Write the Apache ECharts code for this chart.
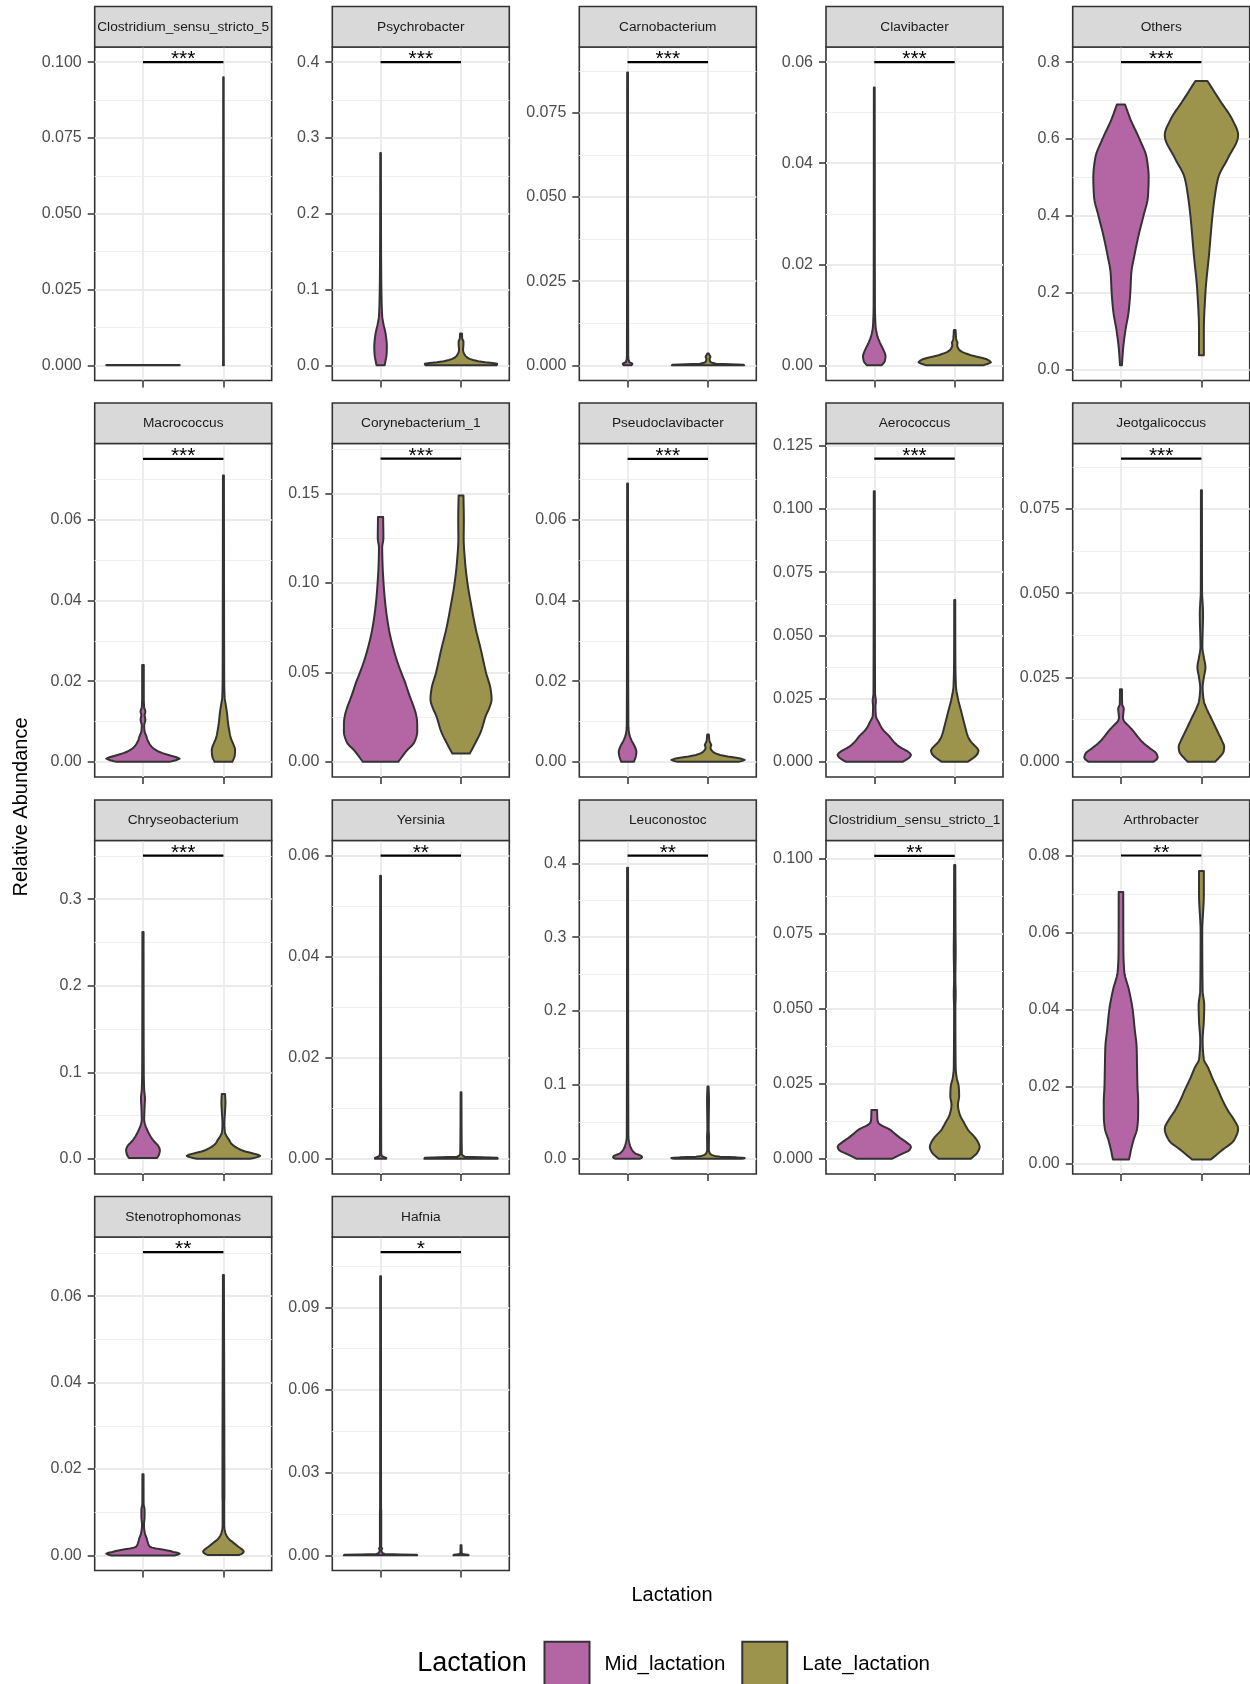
<!DOCTYPE html>
<html><head><meta charset="utf-8">
<script src="https://cdn.jsdelivr.net/npm/echarts@6/dist/echarts.min.js"></script>
<style>html,body{margin:0;padding:0;background:#fff}#c{width:1250px;height:1684px}</style>
</head><body><div id="c"></div>
<script>
// ---------- data ----------
const panels = ['Clostridium_sensu_stricto_5','Psychrobacter','Carnobacterium','Clavibacter','Others',
  'Macrococcus','Corynebacterium_1','Pseudoclavibacter','Aerococcus','Jeotgalicoccus',
  'Chryseobacterium','Yersinia','Leuconostoc','Clostridium_sensu_stricto_1','Arthrobacter',
  'Stenotrophomonas','Hafnia'];
const groups = ['Mid_lactation','Late_lactation'];
const groupX = [1, 2];
const signif = ['***','***','***','***','***','***','***','***','***','***','***','**','**','**','**','**','*'];
const bracketY = [0.1,0.4,0.0901,0.06,0.8,0.0751,0.1696,0.0751,0.1199,0.0899,0.3502,0.06,0.4103,0.1011,0.08,0.0702,0.11];
const yMin = [-0.005,-0.02,-0.0045,-0.003,-0.029,-0.00375,-0.0085,-0.00375,-0.006,-0.0045,-0.0175,-0.003,-0.0205,-0.00506,-0.00276,-0.0035,-0.0055];
const yMax = [0.105,0.42,0.0946,0.063,0.8395,0.0789,0.1781,0.0789,0.1259,0.0944,0.3677,0.063,0.4308,0.1062,0.0839,0.0737,0.1155];
const yTickLabels = [
  ['0.000','0.025','0.050','0.075','0.100'],
  ['0.0','0.1','0.2','0.3','0.4'],
  ['0.000','0.025','0.050','0.075'],
  ['0.00','0.02','0.04','0.06'],
  ['0.0','0.2','0.4','0.6','0.8'],
  ['0.00','0.02','0.04','0.06'],
  ['0.00','0.05','0.10','0.15'],
  ['0.00','0.02','0.04','0.06'],
  ['0.000','0.025','0.050','0.075','0.100','0.125'],
  ['0.000','0.025','0.050','0.075'],
  ['0.0','0.1','0.2','0.3'],
  ['0.00','0.02','0.04','0.06'],
  ['0.0','0.1','0.2','0.3','0.4'],
  ['0.000','0.025','0.050','0.075','0.100'],
  ['0.00','0.02','0.04','0.06','0.08'],
  ['0.00','0.02','0.04','0.06'],
  ['0.00','0.03','0.06','0.09']
];

// violin profiles: [relative abundance, density half-width in group units]
const midClos5 = [[0,0.456],[0.0001,0.456]];
const lateClos5 = [[0,0.006],[0.002,0.004],[0.095,0.003]];
const midPsychro = [[0,0.05],[0.005,0.06],[0.015,0.075],[0.025,0.078],[0.04,0.065],[0.055,0.035],[0.065,0.02],[0.09,0.012],[0.12,0.008],[0.2,0.005],[0.28,0.004]];
const latePsychro = [[0,0.44],[0.002,0.45],[0.004,0.3],[0.007,0.15],[0.01,0.08],[0.015,0.04],[0.02,0.025],[0.028,0.03],[0.032,0.03],[0.035,0.015],[0.042,0.012]];
const midCarno = [[0,0.05],[0.0005,0.06],[0.001,0.02],[0.003,0.008],[0.087,0.005]];
const lateCarno = [[0,0.45],[0.0002,0.44],[0.0005,0.1],[0.001,0.03],[0.002,0.02],[0.0025,0.03],[0.003,0.02],[0.0035,0.01]];
const midClavi = [[0,0.09],[0.0008,0.13],[0.0018,0.14],[0.003,0.115],[0.0045,0.07],[0.006,0.035],[0.008,0.015],[0.012,0.008],[0.055,0.005]];
const lateClavi = [[0,0.35],[0.0006,0.45],[0.0012,0.4],[0.002,0.2],[0.003,0.06],[0.004,0.03],[0.0045,0.035],[0.005,0.02],[0.007,0.01]];
const midOthers = [[0.011,0.012],[0.05,0.025],[0.1,0.054],[0.15,0.095],[0.2,0.116],[0.25,0.128],[0.3,0.17],[0.35,0.22],[0.4,0.28],[0.45,0.335],[0.5,0.344],[0.55,0.32],[0.6,0.23],[0.65,0.12],[0.69,0.05]];
const lateOthers = [[0.037,0.03],[0.1,0.03],[0.2,0.05],[0.3,0.095],[0.4,0.137],[0.45,0.166],[0.5,0.21],[0.55,0.33],[0.61,0.456],[0.65,0.385],[0.7,0.23],[0.751,0.075]];
const midMacro = [[0,0.33],[0.0008,0.456],[0.0015,0.35],[0.0025,0.2],[0.0035,0.12],[0.0045,0.08],[0.0055,0.055],[0.0065,0.04],[0.0075,0.02],[0.009,0.015],[0.0105,0.03],[0.0115,0.02],[0.0125,0.03],[0.0135,0.015],[0.016,0.01],[0.024,0.01]];
const lateMacro = [[0,0.11],[0.0015,0.14],[0.003,0.145],[0.0045,0.12],[0.006,0.09],[0.008,0.07],[0.01,0.055],[0.012,0.045],[0.014,0.03],[0.016,0.015],[0.02,0.01],[0.037,0.008],[0.071,0.006]];
const midCoryne = [[0,0.22],[0.003,0.27],[0.006,0.32],[0.011,0.42],[0.017,0.456],[0.022,0.455],[0.026,0.443],[0.031,0.41],[0.037,0.36],[0.045,0.3],[0.05,0.256],[0.06,0.18],[0.075,0.1],[0.09,0.055],[0.1,0.037],[0.11,0.025],[0.12,0.02],[0.125,0.035],[0.137,0.032]];
const lateCoryne = [[0.0046,0.108],[0.009,0.16],[0.0167,0.245],[0.026,0.31],[0.03,0.35],[0.035,0.38],[0.04,0.37],[0.05,0.31],[0.063,0.245],[0.075,0.18],[0.088,0.125],[0.1,0.08],[0.112,0.05],[0.125,0.033],[0.135,0.035],[0.149,0.03]];
const midPseudo = [[0,0.078],[0.0012,0.1],[0.0025,0.11],[0.004,0.085],[0.0055,0.045],[0.007,0.02],[0.009,0.01],[0.069,0.005]];
const latePseudo = [[0,0.38],[0.0005,0.456],[0.001,0.35],[0.0017,0.15],[0.0025,0.06],[0.0035,0.03],[0.0042,0.04],[0.005,0.02],[0.0068,0.01]];
const midAero = [[0,0.35],[0.0015,0.43],[0.0028,0.456],[0.004,0.42],[0.006,0.31],[0.008,0.24],[0.01,0.19],[0.013,0.1],[0.016,0.05],[0.018,0.02],[0.022,0.015],[0.024,0.02],[0.027,0.01],[0.107,0.006]];
const lateAero = [[0,0.16],[0.0015,0.23],[0.003,0.28],[0.0045,0.295],[0.006,0.26],[0.008,0.2],[0.01,0.165],[0.015,0.12],[0.02,0.08],[0.025,0.04],[0.03,0.015],[0.04,0.008],[0.064,0.006]];
const midJeot = [[0,0.405],[0.0012,0.456],[0.0025,0.44],[0.004,0.36],[0.006,0.26],[0.008,0.19],[0.0095,0.14],[0.011,0.08],[0.012,0.04],[0.013,0.025],[0.0145,0.03],[0.0158,0.035],[0.017,0.015],[0.0215,0.012]];
const lateJeot = [[0,0.17],[0.0015,0.23],[0.003,0.275],[0.0045,0.283],[0.006,0.26],[0.008,0.22],[0.01,0.18],[0.013,0.12],[0.016,0.06],[0.018,0.03],[0.022,0.015],[0.025,0.03],[0.028,0.05],[0.031,0.03],[0.034,0.012],[0.044,0.02],[0.047,0.015],[0.05,0.008],[0.0805,0.006]];
const midChryseo = [[0.001,0.175],[0.005,0.2],[0.01,0.21],[0.015,0.19],[0.02,0.14],[0.025,0.1],[0.03,0.07],[0.035,0.045],[0.04,0.025],[0.045,0.015],[0.06,0.02],[0.07,0.025],[0.08,0.015],[0.1,0.01],[0.262,0.007]];
const lateChryseo = [[0,0.33],[0.002,0.42],[0.0035,0.456],[0.006,0.38],[0.0085,0.27],[0.012,0.18],[0.015,0.13],[0.018,0.093],[0.022,0.07],[0.026,0.04],[0.03,0.02],[0.04,0.012],[0.055,0.02],[0.065,0.025],[0.075,0.02]];
const midYers = [[0,0.07],[0.0002,0.07],[0.0005,0.02],[0.001,0.008],[0.056,0.005]];
const lateYers = [[0,0.456],[0.0002,0.45],[0.0004,0.05],[0.001,0.01],[0.0132,0.005]];
const midLeuco = [[0,0.15],[0.002,0.18],[0.004,0.17],[0.007,0.1],[0.012,0.055],[0.02,0.025],[0.03,0.01],[0.394,0.006]];
const lateLeuco = [[0,0.42],[0.001,0.456],[0.002,0.35],[0.003,0.15],[0.005,0.05],[0.008,0.02],[0.012,0.01],[0.03,0.012],[0.04,0.008],[0.08,0.012],[0.098,0.007]];
const midClos1 = [[0,0.217],[0.0015,0.33],[0.003,0.44],[0.004,0.456],[0.0055,0.4],[0.007,0.32],[0.0085,0.25],[0.01,0.18],[0.011,0.1],[0.012,0.05],[0.013,0.04],[0.0163,0.035]];
const lateClos1 = [[0,0.2],[0.002,0.28],[0.004,0.31],[0.006,0.28],[0.0075,0.24],[0.0095,0.17],[0.012,0.116],[0.015,0.06],[0.018,0.04],[0.021,0.055],[0.024,0.05],[0.027,0.025],[0.03,0.012],[0.05,0.008],[0.055,0.012],[0.06,0.008],[0.07,0.012],[0.075,0.01],[0.098,0.007]];
const midArthro = [[0.001,0.1],[0.004,0.13],[0.006,0.155],[0.009,0.2],[0.012,0.213],[0.016,0.214],[0.02,0.205],[0.025,0.2],[0.03,0.195],[0.035,0.17],[0.04,0.145],[0.045,0.1],[0.05,0.04],[0.055,0.03],[0.0705,0.028]];
const lateArthro = [[0.001,0.116],[0.0035,0.26],[0.006,0.405],[0.009,0.456],[0.0115,0.4],[0.0137,0.33],[0.0165,0.26],[0.019,0.208],[0.022,0.14],[0.025,0.08],[0.027,0.03],[0.032,0.015],[0.037,0.03],[0.041,0.035],[0.045,0.015],[0.06,0.01],[0.07,0.03],[0.076,0.03]];
const midSteno = [[0,0.4],[0.0004,0.456],[0.0008,0.38],[0.0012,0.29],[0.0016,0.16],[0.002,0.085],[0.003,0.06],[0.004,0.045],[0.005,0.025],[0.007,0.012],[0.009,0.02],[0.0105,0.02],[0.012,0.008],[0.0188,0.007]];
const lateSteno = [[0.0001,0.197],[0.0005,0.24],[0.0009,0.253],[0.0014,0.23],[0.002,0.186],[0.003,0.12],[0.0037,0.073],[0.0045,0.04],[0.0055,0.02],[0.007,0.01],[0.012,0.01],[0.014,0.012],[0.0649,0.006]];
const midHafnia = [[0,0.456],[0.0002,0.45],[0.0005,0.05],[0.001,0.02],[0.002,0.01],[0.0025,0.02],[0.003,0.008],[0.016,0.008],[0.017,0.006],[0.1013,0.005]];
const lateHafnia = [[0,0.095],[0.0002,0.09],[0.0005,0.02],[0.001,0.008],[0.0037,0.006]];

const midProfiles = [midClos5,midPsychro,midCarno,midClavi,midOthers,midMacro,midCoryne,midPseudo,midAero,midJeot,midChryseo,midYers,midLeuco,midClos1,midArthro,midSteno,midHafnia];
const lateProfiles = [lateClos5,latePsychro,lateCarno,lateClavi,lateOthers,lateMacro,lateCoryne,latePseudo,lateAero,lateJeot,lateChryseo,lateYers,lateLeuco,lateClos1,lateArthro,lateSteno,lateHafnia];

// ---------- layout / style ----------
const colLeft = [94.7, 332.3, 579.3, 826, 1072.7];
const plotTop = [47, 443.5, 840.5, 1237];
const PW = 177, PH = 333.5, SH = 40.5;
const fillColors = ['#B366A3', '#9C944C'];
const FONT = 'Liberation Sans, Arial, sans-serif';

// monotone cubic (x as a function of screen y) sampling of one violin side, for drawing only
function smoothSide(pts) {
  const n = pts.length;
  if (n < 3) return pts.slice();
  const h = [], d = [];
  for (let k = 0; k < n - 1; k++) {
    h[k] = pts[k + 1][1] - pts[k][1];
    d[k] = Math.abs(h[k]) < 1e-6 ? 0 : (pts[k + 1][0] - pts[k][0]) / h[k];
  }
  const m = new Array(n);
  m[0] = d[0]; m[n - 1] = d[n - 2];
  for (let k = 1; k < n - 1; k++) {
    if (d[k - 1] * d[k] <= 0) { m[k] = 0; continue; }
    const w1 = 2 * h[k] + h[k - 1], w2 = h[k] + 2 * h[k - 1];
    m[k] = (w1 + w2) / (w1 / d[k - 1] + w2 / d[k]);
  }
  const out = [pts[0]];
  for (let k = 0; k < n - 1; k++) {
    const [x0, y0] = pts[k], [x1, y1] = pts[k + 1];
    if (Math.abs(h[k]) < 1e-6) { out.push(pts[k + 1]); continue; }
    const steps = Math.max(2, Math.min(24, Math.ceil(Math.abs(h[k]) / 2)));
    for (let s = 1; s <= steps; s++) {
      const t = s / steps, t2 = t * t, t3 = t2 * t;
      const x = (2 * t3 - 3 * t2 + 1) * x0 + (t3 - 2 * t2 + t) * h[k] * m[k]
              + (-2 * t3 + 3 * t2) * x1 + (t3 - t2) * h[k] * m[k + 1];
      out.push([x, y0 + t * h[k]]);
    }
  }
  return out;
}

const grid = [], xAxis = [], yAxis = [], series = [], graphic = [];

panels.forEach((name, i) => {
  const r = Math.floor(i / 5), c = i % 5;
  const L = colLeft[c], T = plotTop[r];
  grid.push({left: L, top: T, width: PW, height: PH, show: true, backgroundColor: '#fff',
             borderColor: '#333333', borderWidth: 1.6});
  xAxis.push({type: 'value', gridIndex: i, min: 0.4, max: 2.6, position: 'bottom',
    axisLine: {show: false, onZero: false}, axisLabel: {show: false},
    axisTick: {show: true, customValues: groupX, length: 7, lineStyle: {color: '#333333', width: 1.5}},
    splitLine: {show: true, lineStyle: {color: '#EBEBEB', width: 1.8}}});
  const labels = yTickLabels[i];
  const ticks = labels.map(Number);
  const step = ticks[1] - ticks[0];
  const minor = [];
  for (let k = -1; k < ticks.length; k++) {
    const v = ticks[0] + (k + 0.5) * step;
    if (v > yMin[i] && v < yMax[i]) minor.push(+v.toFixed(6));
  }
  yAxis.push({type: 'value', gridIndex: i, min: yMin[i], max: yMax[i], position: 'left',
    axisLine: {show: false, onZero: false},
    axisTick: {show: true, customValues: ticks, length: 7, lineStyle: {color: '#333333', width: 1.5}},
    axisLabel: {show: true, customValues: ticks, margin: 13, color: '#4D4D4D', fontSize: 16, fontFamily: FONT,
      formatter: v => { const j = ticks.findIndex(t => Math.abs(t - v) < 1e-9); return j >= 0 ? labels[j] : ''; }},
    splitLine: {show: true, lineStyle: {color: '#EBEBEB', width: 1.8}}});
  yAxis.push({type: 'value', gridIndex: i, min: yMin[i], max: yMax[i], position: 'left',
    axisLine: {show: false, onZero: false}, axisLabel: {show: false},
    axisTick: {show: false, customValues: minor},
    splitLine: {show: true, lineStyle: {color: '#F0F0F0', width: 1}}});

  [midProfiles, lateProfiles].forEach((profs, g) => {
    const prof = profs[i];
    series.push({
      type: 'custom', name: groups[g], coordinateSystem: 'cartesian2d',
      xAxisIndex: i, yAxisIndex: 2 * i, z: 3,
      itemStyle: {color: fillColors[g]},
      data: prof.map(p => [groupX[g], p[0], p[1]]),
      renderItem: (params, api) => {
        if (params.dataIndex !== 0) return null;
        const xc = groupX[g];
        const right = smoothSide(prof.map(p => api.coord([xc + p[1], p[0]])));
        const left = smoothSide(prof.slice().reverse().map(p => api.coord([xc - p[1], p[0]])));
        return {type: 'polygon', shape: {points: right.concat(left)},
                style: {fill: fillColors[g], stroke: '#333333', lineWidth: 2, lineJoin: 'round'}};
      }
    });
  });

  series.push({
    type: 'custom', name: 'signif_' + i, coordinateSystem: 'cartesian2d',
    xAxisIndex: i, yAxisIndex: 2 * i, z: 4,
    data: [[1.5, bracketY[i]]],
    renderItem: (params, api) => {
      const b = api.value(1);
      const p1 = api.coord([groupX[0], b]);
      const p2 = api.coord([groupX[1], b]);
      return {type: 'group', children: [
        {type: 'line', shape: {x1: p1[0], y1: p1[1], x2: p2[0], y2: p2[1]}, style: {stroke: '#000', lineWidth: 2.2}},
        {type: 'text', style: {text: signif[i], x: (p1[0] + p2[0]) / 2, y: p1[1] - 2.5, align: 'center',
          verticalAlign: 'middle', font: '21px ' + FONT, fill: '#000'}}
      ]};
    }
  });

  graphic.push({type: 'rect', x: L, y: T - SH, shape: {x: 0, y: 0, width: PW, height: SH},
    style: {fill: '#D9D9D9', stroke: '#333333', lineWidth: 1.6}, z: 10});
  graphic.push({type: 'text', x: L + PW / 2, y: T - SH / 2, z: 11,
    style: {text: name, align: 'center', verticalAlign: 'middle', font: '13.7px ' + FONT, fill: '#1A1A1A'}});
});

graphic.push({type: 'text', x: 21.7, y: 807, rotation: Math.PI / 2, z: 11,
  style: {text: 'Relative Abundance', align: 'center', verticalAlign: 'middle', font: '20px ' + FONT, fill: '#000'}});
graphic.push({type: 'text', x: 672, y: 1595, z: 11,
  style: {text: 'Lactation', align: 'center', verticalAlign: 'middle', font: '20px ' + FONT, fill: '#000'}});
graphic.push({type: 'text', x: 417.3, y: 1664, z: 11,
  style: {text: 'Lactation', align: 'left', verticalAlign: 'middle', font: '27px ' + FONT, fill: '#000'}});

const chart = echarts.init(document.getElementById('c'), null, {renderer: 'canvas'});
chart.setOption({
  animation: false,
  backgroundColor: '#ffffff',
  grid, xAxis, yAxis, series, graphic,
  legend: {
    left: 543.5, top: 1640.7, padding: 0, itemWidth: 45, itemHeight: 45, itemGap: 16,
    selectedMode: false, icon: 'rect',
    data: groups.map((gname, g) => ({name: gname, icon: 'rect',
      itemStyle: {color: fillColors[g], borderColor: '#333333', borderWidth: 2}})),
    textStyle: {fontSize: 20.5, color: '#000', fontFamily: FONT, padding: [0, 0, 0, 10]}
  }
});
</script>
</body></html>
